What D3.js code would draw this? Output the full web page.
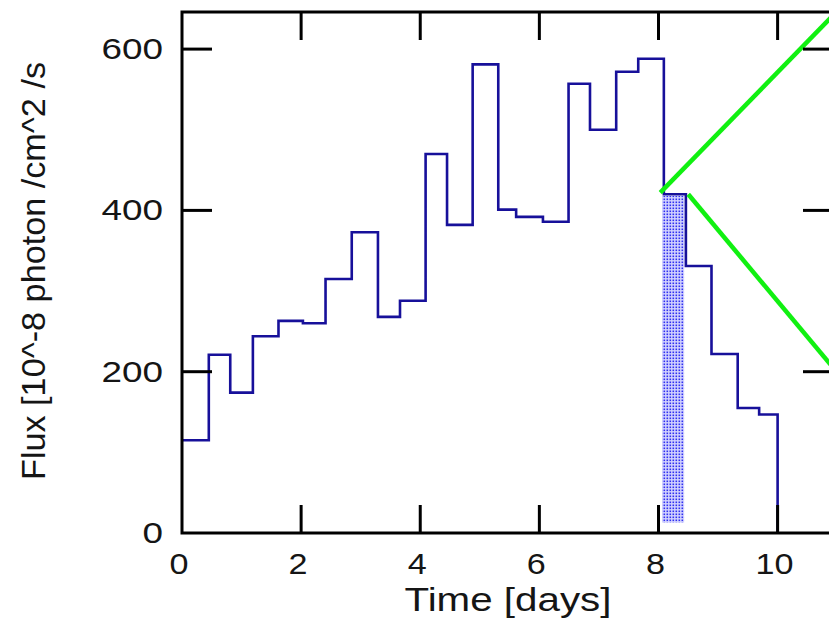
<!DOCTYPE html>
<html>
<head>
<meta charset="utf-8">
<script src="https://cdn.jsdelivr.net/npm/d3@7"></script>
<style>
  body { margin: 0; background: #fff; }
  text { font-family: "Liberation Sans", Arial, sans-serif; fill: #151515; }
</style>
</head>
<body>
<div id="chart"></div>
<script>
// bin edges in days and flux per bin
const binEdges = [0, 0.45, 0.81, 1.19, 1.62, 2.03, 2.41, 2.85, 3.29, 3.66, 4.09, 4.45, 4.88,
  5.31, 5.61, 6.06, 6.49, 6.85, 7.29, 7.66, 8.09, 8.46, 8.89, 9.33, 9.69, 10.0];
const fluxValues = [115, 221, 174, 244, 263, 260, 315, 373, 268, 288, 470, 382, 581,
  401, 392, 386, 557, 500, 572, 588, 420, 331, 222, 155, 147];

// shaded interval and green guide lines
const band = { x0: 8.06, x1: 8.43, y0: 13, y1: 418 };
const upperGuide = [[8.03, 422], [11, 647]];
const lowerGuide = [[8.5, 420], [11, 199]];

const xTicks = [0, 2, 4, 6, 8, 10];
const yTicks = [0, 200, 400, 600];

const width = 829, height = 618;

const x = d3.scaleLinear().domain([0, 10.93]).range([182, 833]);
const y = d3.scaleLinear().domain([0, 646]).range([533, 12]);

const svg = d3.select("#chart").append("svg")
  .attr("width", width)
  .attr("height", height);

const defs = svg.append("defs");
const pat = defs.append("pattern")
  .attr("id", "dots")
  .attr("patternUnits", "userSpaceOnUse")
  .attr("width", 3).attr("height", 3);
pat.append("rect").attr("width", 3).attr("height", 3).attr("fill", "#d4d4ff");
pat.append("rect").attr("x", 0.5).attr("y", 0.5).attr("width", 1.6).attr("height", 1.6).attr("fill", "#3030f0");

// shaded band
svg.append("rect")
  .attr("x", x(band.x0))
  .attr("y", y(band.y1))
  .attr("width", x(band.x1) - x(band.x0))
  .attr("height", y(band.y0) - y(band.y1))
  .attr("fill", "url(#dots)");

// step histogram
const pts = binEdges.slice(0, -1).map((e, i) => [e, fluxValues[i]]);
const last = binEdges[binEdges.length - 1];
pts.push([last, fluxValues[fluxValues.length - 1]]);
const line = d3.line().x(d => x(d[0])).y(d => y(d[1])).curve(d3.curveStepAfter);

svg.append("path")
  .attr("d", line(pts) + `L${x(last)},${y(0)}`)
  .attr("fill", "none")
  .attr("stroke", "#17109a")
  .attr("stroke-width", 2.6);

// green lines
const straight = d3.line().x(d => x(d[0])).y(d => y(d[1]));
[upperGuide, lowerGuide].forEach(g => {
  svg.append("path")
    .attr("d", straight(g))
    .attr("stroke", "#11f011")
    .attr("stroke-width", 4.5)
    .attr("fill", "none");
});

// frame
const frame = svg.append("g").attr("stroke", "#000").attr("stroke-width", 3);
frame.append("rect")
  .attr("x", x(0)).attr("y", y(646))
  .attr("width", x(10.93) - x(0))
  .attr("height", y(0) - y(646))
  .attr("fill", "none");

// inward ticks on all sides
xTicks.filter(d => d > 0).forEach(d => {
  frame.append("line").attr("x1", x(d)).attr("x2", x(d)).attr("y1", y(0)).attr("y2", y(0) - 28);
  frame.append("line").attr("x1", x(d)).attr("x2", x(d)).attr("y1", y(646)).attr("y2", y(646) + 28);
});
yTicks.filter(d => d > 0).forEach(d => {
  frame.append("line").attr("x1", x(0)).attr("x2", x(0) + 30).attr("y1", y(d)).attr("y2", y(d));
  frame.append("line").attr("x1", x(10.93)).attr("x2", x(10.93) - 30).attr("y1", y(d)).attr("y2", y(d));
});

// tick labels
svg.selectAll(".xl").data(xTicks).enter().append("text")
  .attr("x", d => x(d) - 3)
  .attr("y", 574)
  .attr("text-anchor", "middle")
  .attr("font-size", 30)
  .attr("textLength", d => String(d).length * 19)
  .attr("lengthAdjust", "spacingAndGlyphs")
  .text(d => d);

svg.selectAll(".yl").data(yTicks).enter().append("text")
  .attr("x", 163)
  .attr("y", d => y(d) + 10)
  .attr("text-anchor", "end")
  .attr("font-size", 30)
  .attr("textLength", d => String(d).length * 20.5)
  .attr("lengthAdjust", "spacingAndGlyphs")
  .text(d => d);

// axis titles
svg.append("text")
  .attr("x", 508)
  .attr("y", 611)
  .attr("text-anchor", "middle")
  .attr("font-size", 34)
  .attr("textLength", 207)
  .attr("lengthAdjust", "spacingAndGlyphs")
  .text("Time [days]");

svg.append("text")
  .attr("transform", "translate(45,271) rotate(-90)")
  .attr("text-anchor", "middle")
  .attr("font-size", 34)
  .attr("textLength", 418)
  .attr("lengthAdjust", "spacingAndGlyphs")
  .text("Flux [10^-8 photon /cm^2 /s");
</script>
</body>
</html>
